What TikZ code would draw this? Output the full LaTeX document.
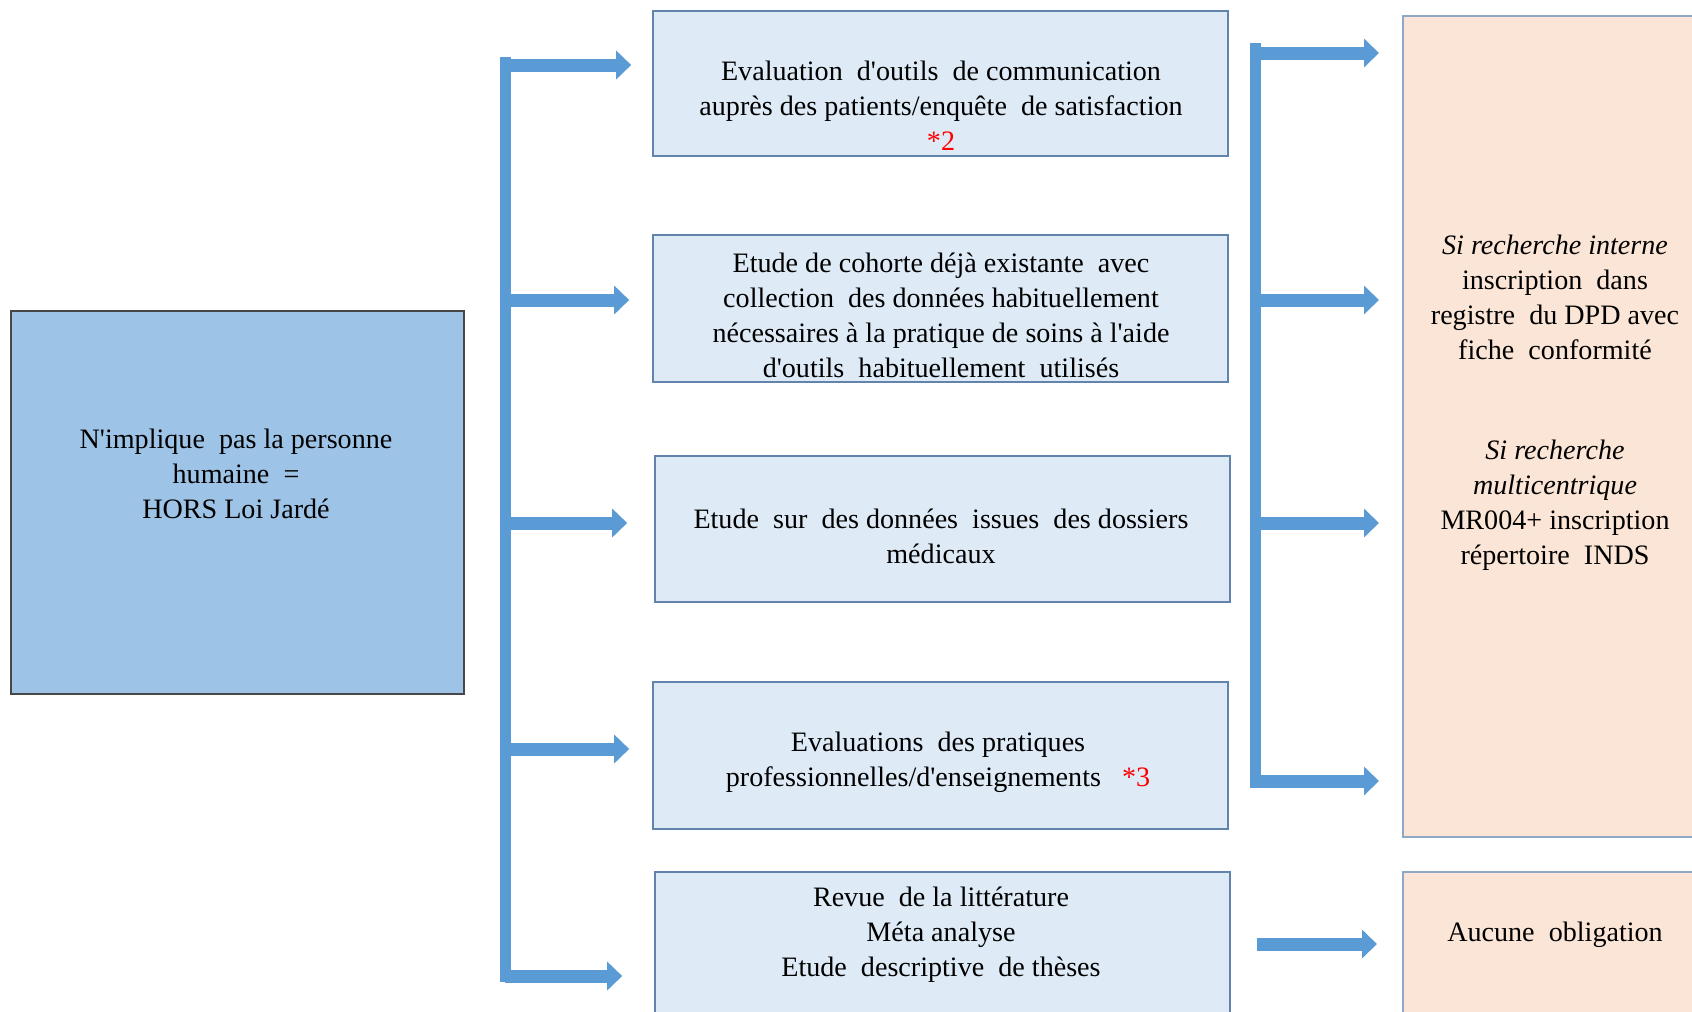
\documentclass[tikz,border=0pt]{standalone}
\usepackage{fontspec}
\setmainfont{Liberation Serif}
\usetikzlibrary{arrows.meta,calc}

\definecolor{arrowblue}{HTML}{5B9BD5}
\definecolor{leftfill}{HTML}{9DC3E6}
\definecolor{leftline}{HTML}{474747}
\definecolor{midfill}{HTML}{DEEBF7}
\definecolor{midline}{HTML}{6283AC}
\definecolor{rightfill}{HTML}{FBE5D6}
\definecolor{rightline}{HTML}{8FA8C6}
\newcommand{\apos}{\textquotesingle}

\begin{document}
\begin{tikzpicture}[x=0.02cm,y=-0.02cm,
  leftbox/.style={draw=leftline, line width=1.4pt, fill=leftfill, minimum width=9.06cm, minimum height=7.66cm},
  midbox/.style={draw=midline, line width=1pt, fill=midfill, minimum width=11.5cm},
  rightbox/.style={draw=rightline, line width=1.2pt, fill=rightfill, minimum width=6.08cm},
  txt/.style={align=center, inner sep=0pt, font=\fontsize{16}{19.9}\selectfont},
  bar/.style={draw=arrowblue, line width=0.22cm},
  blockarrow/.style={draw=arrowblue, line width=0.26cm, -{Triangle[length=0.3cm, width=0.56cm]}}]
\useasboundingbox (0,0) rectangle (1692,1011);
\clip (0,0) rectangle (1692,1011);
% Box "N'implique pas"
\node [leftbox] (hors) at (237.5,502.5) {};
\node [txt] (horstxt) at (236,474) {N\apos implique~ pas la personne\\humaine~ =\\HORS Loi Jardé};
% Box "Evaluation d'outils"
\node [midbox, minimum height=2.9cm] (eval) at (940.5,83.5) {};
\node [txt] (evaltxt) at (941,106) {Evaluation~ d\apos outils~ de communication\\auprès des patients/enquête~ de satisfaction\\\textcolor{red}{*2}};
% Box "Etude de cohorte"
\node [midbox, minimum height=2.94cm] (cohorte) at (940.5,308.5) {};
\node [txt] (cohortetxt) at (941,315) {Etude de cohorte déjà existante~ avec\\collection~ des données habituellement\\nécessaires à la pratique de soins à l\apos aide\\d\apos outils~ habituellement~ utilisés};
% Box "Etude sur des donnees"
\node [midbox, minimum height=2.92cm] (dossiers) at (942.5,529) {};
\node [txt] (dossierstxt) at (941,536) {Etude~ sur~ des données~ issues~ des dossiers\\médicaux};
% Box "Evaluations des pratiques"
\node [midbox, minimum height=2.94cm] (pratiques) at (940.5,755.5) {};
\node [txt] (pratiquestxt) at (938,762) {Evaluations~ des pratiques\\professionnelles/d\apos enseignements~~ \textcolor{red}{*3}};
% Box "Revue de la litterature"
\node [midbox, minimum height=3.36cm] (revue) at (942.5,956) {};
\node [txt] (revuetxt) at (941,935) {Revue~ de la littérature\\Méta analyse\\Etude~ descriptive~ de thèses};
% Box "Si recherche"
\node [rightbox, minimum height=16.42cm] (registre) at (1555,426.5) {};
\node [txt] (internetxt) at (1555,297) {\textit{Si recherche interne}\\inscription~ dans\\registre~ du DPD avec\\fiche~ conformité};
\node [txt] (multitxt) at (1555,505) {\textit{Si recherche}\\\textit{multicentrique}\\MR004+ inscription\\répertoire~ INDS};
% Box "Aucune obligation"
\node [rightbox, minimum height=3.36cm] (aucune) at (1555,956) {};
\node [txt] (aucunetxt) at (1555,935) {Aucune~ obligation};
% Left bracket
\coordinate (lb1) at (505,65);
\coordinate (lb2) at (505,300);
\coordinate (lb3) at (505,523);
\coordinate (lb4) at (505,749);
\coordinate (lb5) at (505,976);
\draw [bar] (505,57) -- (505,982);
\draw [blockarrow, shorten >=0.42cm] (lb1) -- (lb1 -| eval.west);
\draw [blockarrow, shorten >=0.46cm] (lb2) -- (lb2 -| cohorte.west);
\draw [blockarrow, shorten >=0.54cm] (lb3) -- (lb3 -| dossiers.west);
\draw [blockarrow, shorten >=0.46cm] (lb4) -- (lb4 -| pratiques.west);
\draw [blockarrow, shorten >=0.64cm] (lb5) -- (lb5 -| revue.west);
% Right bracket
\coordinate (rb1) at (1255,53);
\coordinate (rb2) at (1255,300);
\coordinate (rb3) at (1255,523);
\coordinate (rb4) at (1255,781);
\draw [bar] (1255,43) -- (1255,788);
\foreach \i in {1,...,4}
  \draw [blockarrow, shorten >=0.46cm] (rb\i) -- (rb\i -| registre.west);
% Arrow to "Aucune obligation"
\coordinate (ra5) at (1257,944);
\draw [blockarrow, shorten >=0.5cm] (ra5) -- (ra5 -| aucune.west);
\end{tikzpicture}
\end{document}
